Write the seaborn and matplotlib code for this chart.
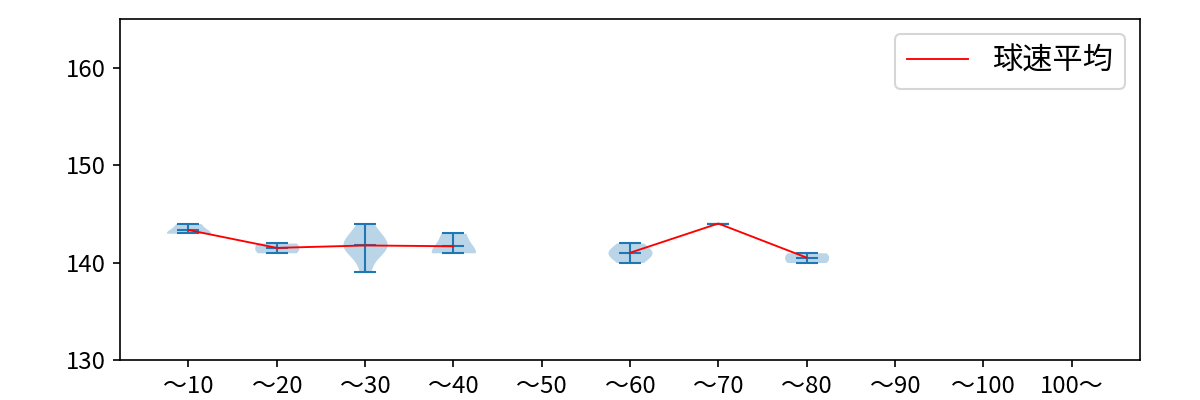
import numpy as np
import pandas as pd
import matplotlib
matplotlib.use("Agg")
import matplotlib.pyplot as plt
import seaborn as sns

plt.rcParams['font.family'] = ['Noto Sans CJK JP', 'DejaVu Sans']

# ---- data ----
categories = ['～10', '～20', '～30', '～40', '～50', '～60', '～70', '～80', '～90', '～100', '100～']
speeds_10 = [143, 143, 144]
speeds_20 = [141, 142]
speeds_30 = [139, 141, 141, 142, 142, 142, 143, 144]
speeds_40 = [141, 141, 143]
speeds_50 = []
speeds_60 = [140, 141, 141, 142]
speeds_70 = [144]
speeds_80 = [140, 141]
speeds_90 = []
speeds_100 = []
speeds_100p = []
legend_label = '球速平均'

groups = [speeds_10, speeds_20, speeds_30, speeds_40, speeds_50, speeds_60,
          speeds_70, speeds_80, speeds_90, speeds_100, speeds_100p]

rows = []
for c, g in zip(categories, groups):
    if len(set(g)) >= 2:
        for v in g:
            rows.append({'cat': c, 'speed': v})
df = pd.DataFrame(rows)

fig, ax = plt.subplots(figsize=(8, 8 / 3), dpi=150)
fig.subplots_adjust(left=0.1, right=0.95, top=0.953, bottom=0.1)

blue = '#1f77b4'
sns.violinplot(data=df, x='cat', y='speed', order=categories, cut=0, inner=None,
               density_norm='width', width=0.5, color=blue, saturation=1,
               linewidth=0, alpha=0.3, ax=ax)

means = []
for i, g in enumerate(groups):
    if len(g) == 0:
        means.append(np.nan)
        continue
    mn, mx, me = min(g), max(g), float(np.mean(g))
    means.append(me)
    ax.hlines([mn, mx, me], i - 0.125, i + 0.125, colors=blue, lw=1.0, zorder=3)
    ax.vlines(i, mn, mx, colors=blue, lw=1.0, zorder=3)

ax.plot(np.arange(len(categories)), means, color='red', lw=0.9, label=legend_label, zorder=4)

ax.set_xlim(-0.775, 10.775)
ax.set_ylim(130, 165)
ax.set_yticks([130, 140, 150, 160])
ax.set_xlabel('')
ax.set_ylabel('')
ax.tick_params(labelsize=11.5)
ax.legend(loc='upper right', fontsize=14.5)

fig.savefig('out.png', dpi=150)
